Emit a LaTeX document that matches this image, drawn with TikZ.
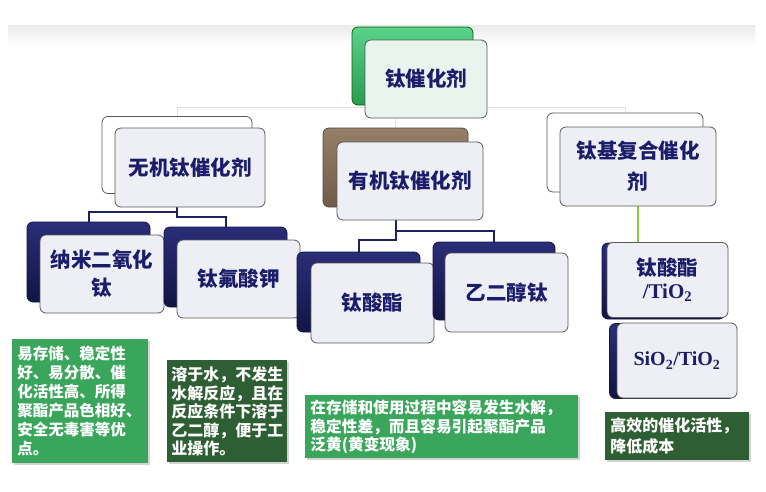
\documentclass[tikz,border=0pt]{standalone}
\usepackage{fontspec}
\newfontfamily\cjk{Noto Sans CJK SC}
\newfontfamily\tnr{Liberation Serif}
\usetikzlibrary{shadows}
\pgfdeclarelayer{bg}
\pgfdeclarelayer{lines}
\pgfsetlayers{bg,lines,main}
\definecolor{navytext}{HTML}{1B1D6B}
\definecolor{navyline}{HTML}{1D2064}
\definecolor{navytop}{HTML}{2A2E78}
\definecolor{navybot}{HTML}{121443}
\definecolor{rootgreen}{HTML}{5AD28A}
\definecolor{rootdark}{HTML}{2A9A50}
\definecolor{frontfill}{HTML}{EEEFF4}
\definecolor{roottint}{HTML}{EAF4EE}
\definecolor{notegreen}{HTML}{3AA65B}
\definecolor{notedark}{HTML}{2E5E33}
\definecolor{linkgreen}{HTML}{8CC63F}

\begin{document}
\begin{tikzpicture}[
    x = 1pt, y = -1pt,
    every node/.style = {rounded corners = 6pt, line width = 0.8pt},
    sz/.style 2 args = {minimum width = #1, minimum height = #2, inner sep = 0pt},
    front/.style = {draw = black!65, fill = frontfill, text = navytext,
      font = \cjk\bfseries\fontsize{20.5}{24}\selectfont},
    plainback/.style = {draw = black!65, fill = white},
    greenback/.style = {draw = green!40!black, top color = rootgreen, bottom color = rootdark},
    brownback/.style = {draw = black!70, top color = brown!35!gray, bottom color = brown!40!black!80},
    navyback/.style = {draw = navybot, top color = navytop, bottom color = navybot},
    notebox/.style = {sharp corners, anchor = north west, align = left, text = white,
      inner xsep = 5pt, inner ysep = 0pt, drop shadow = {shadow xshift = 1.5pt, shadow yshift = -1.5pt, opacity = 0.35}},
    tree/.style = {draw = navyline, line width = 2pt},
    faint/.style = {draw = black!12, line width = 0.8pt},
    greenline/.style = {draw = linkgreen, line width = 1.6pt}
  ]
  \useasboundingbox (0,0) rectangle (766,491);
  \begin{pgfonlayer}{bg}
    \fill[top color = black!8, bottom color = white] (8,25) rectangle (755,45);
  \end{pgfonlayer}

  % root
  \node[greenback, sz = {121}{78}] (rootB) at (412.5,66) {};
  \node[front, fill = roottint, sz = {122}{78}] (root) at (426,79) {钛催化剂};

  % first level
  \node[plainback, sz = {150}{77}] (inorgB) at (177,155) {};
  \node[front, sz = {150}{79}] (inorg) at (190,167.5) {无机钛催化剂};
  \node[brownback, sz = {145}{79}] (orgB) at (395.5,167.5) {};
  \node[front, sz = {146}{78}] (org) at (410,181) {有机钛催化剂};
  \node[plainback, sz = {156}{79}] (compB) at (625,152.5) {};
  \node[front, sz = {156}{79}, align = center,
    font = \cjk\bfseries\fontsize{20.5}{31}\selectfont] (comp) at (638,166.5) {钛基复合催化\\剂};

  % second level
  \node[navyback, sz = {123}{80}] (nanoB) at (88.5,262) {};
  \node[front, sz = {124}{78}, align = center,
    font = \cjk\bfseries\fontsize{20.5}{28}\selectfont] (nano) at (102,274) {纳米二氧化\\钛};
  \node[navyback, sz = {123}{80}] (kfB) at (225.5,267) {};
  \node[front, sz = {123}{78}] (kf) at (238.5,279) {钛氟酸钾};
  \node[navyback, sz = {123}{80}] (esterB) at (358.5,292) {};
  \node[front, sz = {123}{80}] (ester) at (372.5,303) {钛酸酯};
  \node[navyback, sz = {122}{78}] (glyB) at (494,281) {};
  \node[front, sz = {123}{79}] (gly) at (506.5,292.5) {乙二醇钛};
  \node[navyback, sz = {123}{76}] (tioB) at (663.5,281) {};
  \node[front, sz = {121}{75}, align = center,
    font = \cjk\bfseries\fontsize{20.5}{23}\selectfont] (tio) at (667.5,280) {钛酸酯\\{\tnr\fontsize{21}{23}\selectfont/TiO\textsubscript{2}}};
  \node[navyback, sz = {125}{75}] (sioB) at (672,361) {};
  \node[front, sz = {120}{75}, font = \tnr\bfseries\fontsize{20}{24}\selectfont] (sio) at (677,360.5) {SiO\textsubscript{2}/TiO\textsubscript{2}};

  % notes
  \node[notebox, fill = notegreen, sz = {135}{124}, inner xsep = 5pt, text width = 126,
    font = \cjk\bfseries\fontsize{15.5}{19}\selectfont] (noteA) at (12,339)
    {易存储、稳定性\\好、易分散、催\\化活性高、所得\\聚酯产品色相好、\\安全无毒害等优\\点。};
  \node[notebox, fill = notedark, sz = {120}{102}, inner xsep = 4pt, text width = 112,
    font = \cjk\bfseries\fontsize{16}{18.5}\selectfont] (noteB) at (167,360)
    {溶于水，不发生\\水解反应，且在\\反应条件下溶于\\乙二醇，便于工\\业操作。};
  \node[notebox, fill = notegreen, sz = {273}{63}, inner xsep = 5pt, text width = 263,
    font = \cjk\bfseries\fontsize{15.7}{18.5}\selectfont] (noteC) at (305,395)
    {在存储和使用过程中容易发生水解，\\稳定性差，而且容易引起聚酯产品\\泛黄(黄变现象)};
  \node[notebox, fill = notedark, sz = {144}{48}, inner xsep = 5pt, text width = 134,
    font = \cjk\bfseries\fontsize{16}{21}\selectfont] (noteD) at (605,412)
    {高效的催化活性，\\降低成本};

  % connectors
  \begin{pgfonlayer}{lines}
    \draw[faint] (rootB.south) -- ++(0,2) coordinate (rootJ);
    \draw[faint] (rootJ) -| (inorgB.north);
    \draw[faint] (rootJ) -| (orgB.north);
    \draw[faint] (rootJ) -| (compB.north);
    \draw[tree] (inorgB.south) -- ++(0,18.5) coordinate (inorgJ) -| (nanoB.north);
    \draw[tree] (inorgJ) -- ++(0,5) -| (kfB.north);
    \draw[tree] (orgB.south) -- ++(0,24) coordinate (orgJ) -| (glyB.north);
    \draw[tree] (orgJ) -- ++(0,9) -| (esterB.north);
    \draw[greenline] (comp.south) -- (comp.south |- tioB.north);
  \end{pgfonlayer}
\end{tikzpicture}
\end{document}
